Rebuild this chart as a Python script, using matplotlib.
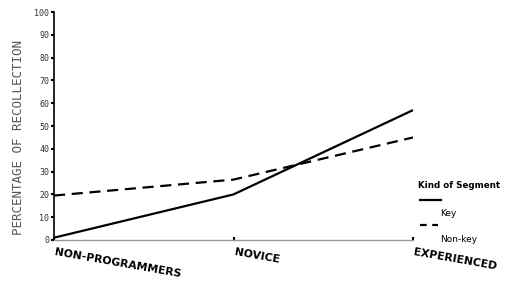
import matplotlib.pyplot as plt
from matplotlib.lines import Line2D

grupos = ['NON-PROGRAMMERS', 'NOVICE', 'EXPERIENCED']
key = [1, 20, 57]
non_key = [19.5, 26.5, 45]
yticks = list(range(0, 101, 10))

fig = plt.figure(figsize=(5.08, 3.01), dpi=100)
ax = fig.add_axes([0.1063, 0.2027, 0.7067, 0.757])

x = list(range(len(grupos)))
ax.plot(x, key, color='black', lw=1.6, solid_capstyle='butt')
ax.plot(x, non_key, color='black', lw=1.6, dashes=(5, 3))

ax.set_xlim(0, 2)
ax.set_ylim(0, 100)
ax.set_yticks(yticks)
ax.set_yticklabels([str(v) for v in yticks], family='DejaVu Sans Mono',
                   fontsize=6, color='#333333')
ax.tick_params(axis='y', length=2.5, width=1.5, pad=1, color='black')
ax.set_xticks(x)
ax.set_xticklabels([])
ax.tick_params(axis='x', length=2, width=1.5, direction='in', color='black')

for s in ('top', 'right'):
    ax.spines[s].set_visible(False)
ax.spines['left'].set_linewidth(1.2)
ax.spines['bottom'].set_color('#999999')
ax.spines['bottom'].set_linewidth(1.0)

for i, g in enumerate(grupos):
    ax.annotate(g, xy=(i, 0), xytext=(1, -5), textcoords='offset points',
                rotation=-10, rotation_mode='anchor', ha='left', va='top',
                fontsize=7.8, fontweight='semibold', annotation_clip=False)

ax.set_ylabel('PERCENTAGE OF RECOLLECTION', family='DejaVu Sans Mono',
              fontsize=9, color='#555555')
ax.yaxis.set_label_coords(-0.082, 0.45)

# legenda manual
fig.text(418 / 508, 1 - 186 / 301, 'Kind of Segment', fontsize=6.3,
         fontweight='bold', va='center', ha='left')
fig.add_artist(Line2D([420 / 508, 441 / 508], [1 - 200 / 301] * 2,
                      color='black', lw=1.6))
fig.text(440 / 508, 1 - 213 / 301, 'Key', fontsize=6.5, fontweight='medium',
         va='center', ha='left')
fig.add_artist(Line2D([420 / 508, 438 / 508], [1 - 225 / 301] * 2,
                      color='black', lw=1.6, dashes=(3, 2.5)))
fig.text(440 / 508, 1 - 239 / 301, 'Non-key', fontsize=6.5, fontweight='medium',
         va='center', ha='left')

fig.savefig('out.png', dpi=100)
